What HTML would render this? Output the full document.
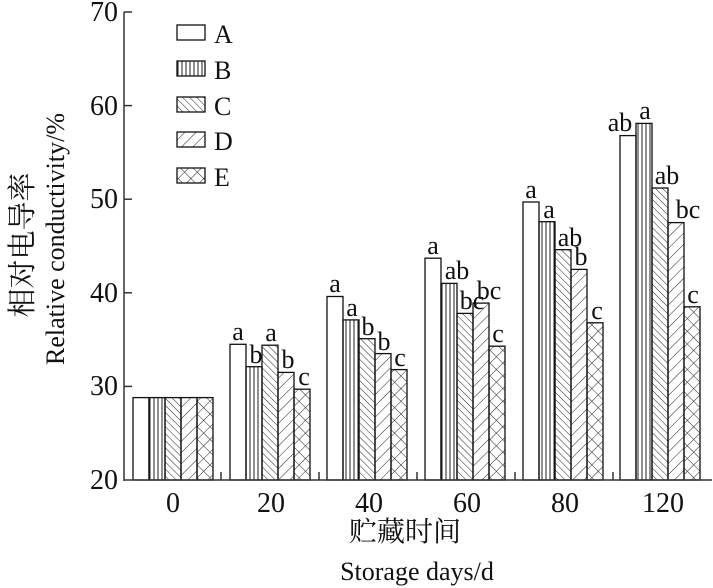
<!DOCTYPE html>
<html><head><meta charset="utf-8"><style>body{margin:0;background:#fff}svg{display:block}text{font-family:"Liberation Serif","Noto Serif CJK SC",serif;fill:#111}</style></head><body>
<svg width="713" height="588" viewBox="0 0 713 588" xmlns="http://www.w3.org/2000/svg">
<defs>
<pattern id="pB" width="4" height="10" patternUnits="userSpaceOnUse"><line x1="2" y1="0" x2="2" y2="10" stroke="#222" stroke-width="1"/></pattern>
<pattern id="pC" width="5" height="5" patternUnits="userSpaceOnUse" patternTransform="rotate(-45)"><line x1="0" y1="0" x2="0" y2="5" stroke="#222" stroke-width="1"/></pattern>
<pattern id="pD" width="8" height="8" patternUnits="userSpaceOnUse" patternTransform="rotate(45)"><line x1="0" y1="0" x2="0" y2="8" stroke="#222" stroke-width="1"/></pattern>
<pattern id="pE" width="9" height="9" patternUnits="userSpaceOnUse" patternTransform="rotate(45)"><line x1="0" y1="0" x2="0" y2="9" stroke="#222" stroke-width="1"/><line x1="0" y1="0" x2="9" y2="0" stroke="#222" stroke-width="1"/></pattern>
</defs>
<g stroke="#111" stroke-width="1.3">
<rect x="133" y="397.6" width="16" height="82.4" fill="#fff"/>
<rect x="149" y="397.6" width="16" height="82.4" fill="url(#pB)"/>
<rect x="165" y="397.6" width="16" height="82.4" fill="url(#pC)"/>
<rect x="181" y="397.6" width="16" height="82.4" fill="url(#pD)"/>
<rect x="197" y="397.6" width="16" height="82.4" fill="url(#pE)"/>

<rect x="230" y="344.3" width="16" height="135.7" fill="#fff"/>
<rect x="246" y="366.7" width="16" height="113.3" fill="url(#pB)"/>
<rect x="262" y="345.2" width="16" height="134.8" fill="url(#pC)"/>
<rect x="278" y="372.4" width="16" height="107.6" fill="url(#pD)"/>
<rect x="294" y="389.2" width="16" height="90.8" fill="url(#pE)"/>

<rect x="327" y="296.5" width="16" height="183.5" fill="#fff"/>
<rect x="343" y="319.9" width="16" height="160.1" fill="url(#pB)"/>
<rect x="359" y="338.7" width="16" height="141.3" fill="url(#pC)"/>
<rect x="375" y="353.6" width="16" height="126.4" fill="url(#pD)"/>
<rect x="391" y="369.6" width="16" height="110.4" fill="url(#pE)"/>

<rect x="425" y="258.2" width="16" height="221.8" fill="#fff"/>
<rect x="441" y="283.4" width="16" height="196.6" fill="url(#pB)"/>
<rect x="457" y="313.4" width="16" height="166.6" fill="url(#pC)"/>
<rect x="473" y="303.1" width="16" height="176.9" fill="url(#pD)"/>
<rect x="489" y="346.2" width="16" height="133.8" fill="url(#pE)"/>

<rect x="523" y="202.0" width="16" height="278" fill="#fff"/>
<rect x="539" y="221.7" width="16" height="258.3" fill="url(#pB)"/>
<rect x="555" y="249.7" width="16" height="230.3" fill="url(#pC)"/>
<rect x="571" y="269.4" width="16" height="210.6" fill="url(#pD)"/>
<rect x="587" y="322.8" width="16" height="157.2" fill="url(#pE)"/>

<rect x="620" y="135.6" width="16" height="344.4" fill="#fff"/>
<rect x="636" y="123.4" width="16" height="356.6" fill="url(#pB)"/>
<rect x="652" y="188.0" width="16" height="292" fill="url(#pC)"/>
<rect x="668" y="222.6" width="16" height="257.4" fill="url(#pD)"/>
<rect x="684" y="306.8" width="16" height="173.2" fill="url(#pE)"/>
</g>
<g font-size="26" text-anchor="middle">
<text x="238" y="340">a</text><text x="256" y="363">b</text><text x="271" y="341">a</text><text x="288" y="368">b</text><text x="304" y="385">c</text>
<text x="335" y="292">a</text><text x="352" y="316">a</text><text x="368" y="335">b</text><text x="384" y="350">b</text><text x="400" y="366">c</text>
<text x="433" y="254">a</text><text x="457" y="279">ab</text><text x="472" y="309">bc</text><text x="489" y="299"></text><text x="498" y="342">c</text>
<text x="531" y="198">a</text><text x="549" y="218">a</text><text x="570" y="246">ab</text><text x="581" y="265">b</text><text x="597" y="319">c</text>
<text x="620" y="131">ab</text><text x="645" y="119">a</text><text x="667" y="184">ab</text><text x="688" y="218">bc</text><text x="693" y="303">c</text>
</g>
<g stroke="#333" stroke-width="1.5" fill="none">
<line x1="124" y1="12" x2="124" y2="481"/>
<line x1="124" y1="480" x2="712" y2="480"/>
<line x1="124" y1="12" x2="132" y2="12"/>
<line x1="124" y1="105.6" x2="132" y2="105.6"/>
<line x1="124" y1="199.2" x2="132" y2="199.2"/>
<line x1="124" y1="292.8" x2="132" y2="292.8"/>
<line x1="124" y1="386.4" x2="132" y2="386.4"/>
<line x1="221" y1="480" x2="221" y2="472"/>
<line x1="319" y1="480" x2="319" y2="472"/>
<line x1="417" y1="480" x2="417" y2="472"/>
<line x1="515" y1="480" x2="515" y2="472"/>
<line x1="613" y1="480" x2="613" y2="472"/>
</g>
<g font-size="28" text-anchor="end">
<text x="118" y="21">70</text><text x="118" y="115">60</text><text x="118" y="208">50</text><text x="118" y="302">40</text><text x="118" y="395">30</text><text x="118" y="489">20</text>
</g>
<g font-size="28" text-anchor="middle">
<text x="173" y="512">0</text><text x="271" y="512">20</text><text x="369" y="512">40</text><text x="467" y="512">60</text><text x="565" y="512">80</text><text x="663" y="512">120</text>
</g>
<text x="405" y="541" font-size="28" text-anchor="middle">贮藏时间</text>
<text x="417" y="580" font-size="26" text-anchor="middle">Storage days/d</text>
<text transform="translate(32,245) rotate(-90)" font-size="29" text-anchor="middle">相对电导率</text>
<text transform="translate(64,239) rotate(-90)" font-size="26" text-anchor="middle">Relative conductivity/%</text>
<g stroke="#111" stroke-width="1.3">
<rect x="177" y="25" width="28" height="15" fill="#fff"/>
<rect x="177" y="61" width="28" height="15" fill="url(#pB)"/>
<rect x="177" y="97" width="28" height="15" fill="url(#pC)"/>
<rect x="177" y="132" width="28" height="15" fill="url(#pD)"/>
<rect x="177" y="168" width="28" height="15" fill="url(#pE)"/>
</g>
<g font-size="26"><text x="214" y="43">A</text><text x="214" y="79">B</text><text x="214" y="115">C</text><text x="214" y="150">D</text><text x="214" y="186">E</text></g>
<g font-size="26" text-anchor="middle"><text x="489" y="299">bc</text></g>
</svg>
</body></html>
